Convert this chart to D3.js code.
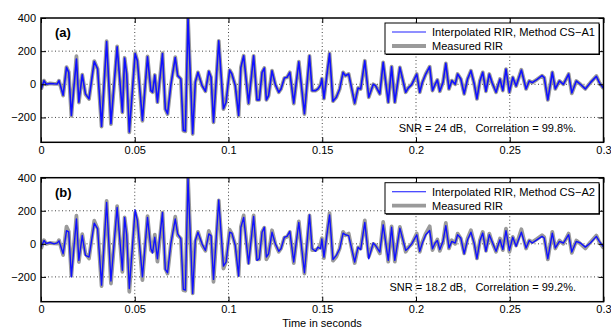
<!DOCTYPE html>
<html>
<head>
<meta charset="utf-8">
<script src="https://cdn.jsdelivr.net/npm/d3@7"></script>
<style>
  html, body { margin: 0; padding: 0; background: #fff; }
  svg { display: block; font-family: "Liberation Sans", Arial, sans-serif; }
  text { white-space: pre; }
</style>
</head>
<body>
<svg id="chart" width="611" height="329"></svg>
<script>
// time of each sample (ms)
const timeMs = [
  0, 1.6, 2.8, 4.8, 7.0, 8.7, 9.6, 11.8, 13.6, 14.8,
  16.2, 18.9, 20.2, 22.0, 23.7, 25.6, 28.4, 30.2, 32.3, 35.0,
  37.3, 40.6, 43.4, 44.6, 45.7, 47.1, 50.2, 51.4, 54.1, 56.8,
  58.6, 59.5, 60.7, 62.1, 64.8, 66.3, 67.5, 69.3, 71.6, 72.9,
  74.6, 75.9, 77.0, 78.4, 80.9, 82.3, 83.7, 85.9, 87.7, 89.5,
  90.7, 92.0, 94.8, 97.3, 98.7, 100.6, 101.8, 103.6, 105.4, 106.6,
  108.1, 110.7, 113.4, 115.2, 116.4, 117.9, 119.1, 120.2, 121.4, 123.2,
  125.0, 126.8, 128.0, 129.8, 131.2, 132.7, 134.8, 137.5, 140.5, 143.2,
  144.6, 146.4, 147.7, 149.1, 149.8, 150.9, 153.9, 155.7, 157.5, 159.3,
  161.1, 162.3, 164.1, 167.3, 169.1, 170.5, 172.7, 174.8, 177.2, 178.4,
  180.7, 182.5, 185.2, 187.0, 188.7, 191.4, 194.5, 195.9, 197.7, 200.4,
  202.0, 203.4, 205.2, 207.3, 208.8, 210.2, 211.4, 212.7, 214.4, 215.9,
  217.6, 219.1, 220.9, 222.2, 223.9, 225.7, 227.5, 229.3, 231.1, 232.5,
  234.1, 235.6, 237.3, 239.1, 240.5, 242.7, 244.8, 246.3, 248.0, 249.8,
  251.6, 253.4, 256.2, 258.7, 260.4, 262.0, 264.6, 267.2, 268.4, 270.3,
  272.7, 274.3, 276.5, 278.6, 281.4, 283.1, 285.5, 287.7, 290.3, 293.0,
  296.2, 297.8, 299.7, 300
];

const measured = [
  -30, 22, 0, 5, 3, 2, 22, -68, 104, 74,
  -190, 170, -110, 58, -60, -88, 140, 92, -256, 260,
  -240, 228, -170, 160, 60, -290, 188, 142, -220, 168,
  -38, -48, 56, -108, 188, -150, -180, 0, 164, 52,
  32, -280, -284, 400, -300, 12, 72, -8, -42, 78,
  42, -230, 262, -150, -108, 86, 62, -8, -190, 102,
  172, -116, 172, -94, -94, 72, 98, -94, -68, 82,
  -2, -48, -28, 38, 42, 72, -116, 136, -180, 172,
  -38, -38, -28, -4, 34, -86, 186, -102, -78, -28,
  72, 52, 62, -116, -22, -28, 142, -78, 0, -8,
  -58, 132, -108, 106, -108, 102, -48, -22, -2, 62,
  -48, 12, 62, 106, -38, 0, 26, -42, 12, 126,
  -28, 22, 0, 62, 32, -58, 32, 82, 0, -88,
  22, 72, -42, 62, 12, -48, 32, -38, 92, -48,
  42, -10, 88, -28, 20, 10, 30, 52, 40, -94,
  72, -28, 20, 0, 62, -55, 20, 0, -28, 10,
  50, 10, -20, -10
];

// panel (a): interpolation is indistinguishable from the measurement
const interpA = [
  -32, 22, 0, 5, 3, 2, 22, -66, 102, 72,
  -188, 152, -108, 58, -58, -88, 138, 92, -254, 258,
  -238, 226, -168, 158, 62, -288, 186, 142, -218, 166,
  -38, -48, 56, -108, 186, -148, -178, 0, 162, 52,
  32, -278, -282, 400, -298, 12, 72, -8, -42, 78,
  42, -228, 262, -148, -108, 86, 62, -8, -188, 102,
  172, -114, 172, -94, -94, 72, 98, -94, -68, 82,
  -2, -48, -28, 38, 42, 72, -114, 136, -178, 172,
  -38, -38, -28, -4, 34, -86, 186, -102, -78, -28,
  72, 52, 62, -114, -22, -28, 142, -78, 0, -8,
  -58, 132, -108, 106, -108, 102, -48, -22, -2, 62,
  -48, 12, 62, 106, -38, 0, 26, -42, 12, 126,
  -28, 22, 0, 62, 32, -58, 32, 82, 0, -88,
  22, 72, -42, 62, 12, -48, 32, -38, 92, -48,
  42, -10, 86, -28, 20, 10, 30, 52, 40, -94,
  72, -28, 20, 0, 62, -52, 20, 0, -28, 10,
  48, 10, -20, -10
];

// panel (b): visibly less accurate interpolation
const interpB = [
  -20, 20, 2, 8, 0, 6, 18, -60, 80, 72,
  -200, 150, -100, 50, -70, -80, 125, 90, -250, 250,
  -225, 220, -160, 160, 55, -270, 205, 140, -200, 160,
  -30, -55, 40, -90, 190, -155, -175, 5, 150, 60,
  30, -275, -280, 395, -300, 20, 70, 0, -40, 60,
  50, -215, 265, -135, -110, 70, 65, -10, -195, 100,
  160, -120, 165, -100, -90, 70, 100, -80, -60, 70,
  0, -45, -30, 40, 45, 75, -110, 130, -175, 175,
  -30, -45, -20, -30, 30, -80, 175, -95, -70, -30,
  65, 55, 50, -110, -20, -35, 130, -90, 5, -10,
  -50, 115, -100, 100, -100, 95, -40, -25, 0, 55,
  -45, 5, 55, 80, -30, 5, 20, -35, 15, 110,
  -25, 15, 5, 55, 35, -60, 25, 70, 0, -90,
  20, 65, -45, 55, 15, -45, 25, -35, 80, -40,
  40, -15, 70, -25, 20, 5, 25, 45, 35, -90,
  65, -25, 15, 5, 55, -50, 15, 5, -20, 5,
  45, 15, -15, 0
];

const xTicks = [0, 0.05, 0.1, 0.15, 0.2, 0.25, 0.3];
const yTicks = [-200, 0, 200, 400];

const panels = [
  { label: "(a)", top: 18, bottom: 142.3, interp: interpA, blueWidth: 1.6,
    legend: ["Interpolated RIR, Method CS\u2212A1", "Measured RIR"],
    note: "SNR = 24 dB,   Correlation = 99.8%." },
  { label: "(b)", top: 177.7, bottom: 301.7, interp: interpB, blueWidth: 1.4,
    legend: ["Interpolated RIR, Method CS\u2212A2", "Measured RIR"],
    note: "SNR = 18.2 dB,   Correlation = 99.2%." }
];

const svg = d3.select("#chart");
const left = 41, right = 603.5;
const fontSize = 11;
const x = d3.scaleLinear().domain([0, 0.3]).range([left, right]);
const fmtY = d => d < 0 ? "\u2212" + Math.abs(d) : String(d);

panels.forEach((p, pi) => {
  const y = d3.scaleLinear().domain([-350, 400]).range([p.bottom, p.top]);
  const g = svg.append("g");

  const clipId = "clip" + pi;
  svg.append("clipPath").attr("id", clipId)
    .append("rect").attr("x", left).attr("y", p.top)
    .attr("width", right - left).attr("height", p.bottom - p.top);

  // grid
  g.append("g").selectAll("line").data(xTicks.slice(1, -1)).join("line")
    .attr("x1", d => x(d)).attr("x2", d => x(d))
    .attr("y1", p.top).attr("y2", p.bottom)
    .attr("stroke", "#444").attr("stroke-width", 1)
    .attr("stroke-dasharray", "1 2.5");
  g.append("g").selectAll("line").data(yTicks.filter(d => d < 400)).join("line")
    .attr("x1", left).attr("x2", right)
    .attr("y1", d => y(d)).attr("y2", d => y(d))
    .attr("stroke", "#444").attr("stroke-width", 1)
    .attr("stroke-dasharray", "1 2.5");

  const line = d3.line()
    .x((d, i) => x(timeMs[i] / 1000))
    .y(d => y(d));

  const lines = g.append("g").attr("clip-path", `url(#${clipId})`);
  lines.append("path").datum(measured)
    .attr("d", line)
    .attr("fill", "none")
    .attr("stroke", "#9a9a9a")
    .attr("stroke-width", 3.8)
    .attr("stroke-linejoin", "round");
  lines.append("path").datum(p.interp)
    .attr("d", line)
    .attr("fill", "none")
    .attr("stroke", "#1010ff")
    .attr("stroke-width", p.blueWidth)
    .attr("stroke-linejoin", "round");

  // box axes with inward ticks
  const xBottom = d3.axisBottom(x).tickValues(xTicks).tickSizeInner(-5).tickSizeOuter(0)
    .tickPadding(4).tickFormat(d => d === 0 ? "0" : String(+d.toFixed(2)));
  const xTop = d3.axisTop(x).tickValues(xTicks).tickSizeInner(-5).tickSizeOuter(0).tickFormat("");
  const yLeft = d3.axisLeft(y).tickValues(yTicks).tickSizeInner(-5).tickSizeOuter(0)
    .tickPadding(5).tickFormat(fmtY);
  const yRight = d3.axisRight(y).tickValues(yTicks).tickSizeInner(-5).tickSizeOuter(0).tickFormat("");

  const axes = [
    g.append("g").attr("transform", `translate(0,${p.bottom})`).call(xBottom),
    g.append("g").attr("transform", `translate(0,${p.top})`).call(xTop),
    g.append("g").attr("transform", `translate(${left},0)`).call(yLeft),
    g.append("g").attr("transform", `translate(${right},0)`).call(yRight)
  ];
  axes.forEach(a => {
    a.select(".domain").remove();
    a.selectAll("line").attr("stroke", "#000");
    a.selectAll("text").attr("fill", "#000").style("font-size", fontSize + "px")
      .style("font-family", "'Liberation Sans', Arial, sans-serif");
  });

  g.append("rect")
    .attr("x", left).attr("y", p.top)
    .attr("width", right - left).attr("height", p.bottom - p.top)
    .attr("fill", "none").attr("stroke", "#000").attr("stroke-width", 1.5);

  // panel label
  g.append("text").attr("x", 55).attr("y", p.top + 19)
    .attr("font-size", 13).attr("font-weight", "bold").text(p.label);

  // legend
  const lg = g.append("g").attr("transform", `translate(385,${p.top + 5})`);
  lg.append("rect").attr("x", 1).attr("y", 1).attr("width", 214).attr("height", 31)
    .attr("fill", "#000");
  lg.append("rect").attr("width", 214).attr("height", 31)
    .attr("fill", "#fff").attr("stroke", "#000").attr("stroke-width", 1);
  lg.append("line").attr("x1", 7).attr("x2", 41).attr("y1", 9).attr("y2", 9)
    .attr("stroke", pi === 0 ? "#6a6aff" : "#1010ff").attr("stroke-width", pi === 0 ? 1.4 : 1.1);
  lg.append("line").attr("x1", 7).attr("x2", 41).attr("y1", 23).attr("y2", 23)
    .attr("stroke", "#9a9a9a").attr("stroke-width", 3.8);
  lg.selectAll("text.leg").data(p.legend).join("text")
    .attr("class", "leg")
    .attr("x", 47).attr("y", (d, i) => 13 + i * 14)
    .attr("font-size", fontSize).attr("fill", "#000")
    .attr("textLength", (d, i) => i === 0 ? 163 : null)
    .attr("lengthAdjust", "spacingAndGlyphs")
    .text(d => d);

  // SNR note
  g.append("text").attr("x", 576).attr("y", p.bottom - 10.5)
    .attr("text-anchor", "end").attr("font-size", fontSize).attr("fill", "#000")
    .text(p.note);
});

svg.append("text").attr("x", 322).attr("y", 327)
  .attr("text-anchor", "middle").attr("font-size", fontSize).attr("fill", "#000")
  .text("Time in seconds");
</script>
</body>
</html>
